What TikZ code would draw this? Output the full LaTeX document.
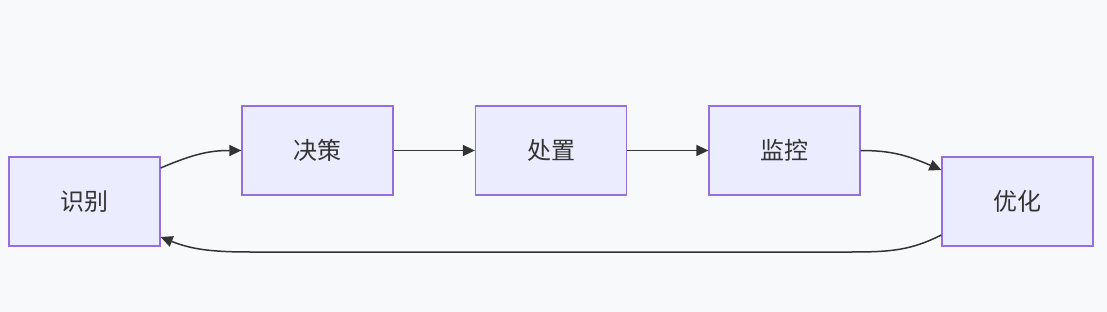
\documentclass[tikz,border=0pt]{standalone}
\usepackage{fontspec}
\newfontfamily\cjk{Noto Sans CJK SC}
\usepackage{tikz}
\usetikzlibrary{arrows.meta,positioning}
\definecolor{bgcol}{HTML}{F8F9FA}
\definecolor{boxfill}{HTML}{ECECFF}
\definecolor{boxline}{HTML}{9370DB}
\definecolor{linecol}{HTML}{333333}

\begin{document}
\begin{tikzpicture}[
    x=1pt, y=-1pt,
    box/.style={rectangle, draw=boxline, fill=boxfill, line width=1.3pt,
                minimum width=151pt, minimum height=89pt, inner sep=0pt,
                text=linecol, font=\cjk\fontsize{24}{28}\selectfont},
    arrow/.style={-{Triangle[length=12pt, width=11pt]}, draw=linecol, line width=1.5pt}
]

% ================= BACKGROUND =================
\fill[bgcol] (0,0) rectangle (1107,312);
\useasboundingbox (0,0) rectangle (1107,312);

% ================= NODES =================
\node[box] (Identify) at (84.5, 201.5) {识别};
\node[box] (Decide) at (317.5, 150.5) {决策};
\node[box] (Handle) at (551, 150.5) {处置};
\node[box] (Monitor) at (784.5, 150.5) {监控};
\node[box] (Optimize) at (1017.5, 201.5) {优化};

\coordinate (LoopR) at (852, 252);
\coordinate (LoopL) at (250, 252);

% ================= DRAWING ARROWS =================
\draw[arrow] ([yshift=33.5pt]Identify.east) .. controls +(35,-15) and +(-30,0) .. (Decide.west);
\draw[arrow] (Decide) -- (Handle);
\draw[arrow] (Handle) -- (Monitor);
\draw[arrow] (Monitor.east) .. controls +(30,0) and +(-35,-15) .. ([yshift=31.5pt]Optimize.west);
\draw[arrow] ([yshift=-33.5pt]Optimize.west) .. controls +(-30,15) and +(40,0) .. (LoopR)
    -- (LoopL) .. controls +(-40,0) and +(30,12) .. ([yshift=-35.5pt]Identify.east);

\end{tikzpicture}
\end{document}
